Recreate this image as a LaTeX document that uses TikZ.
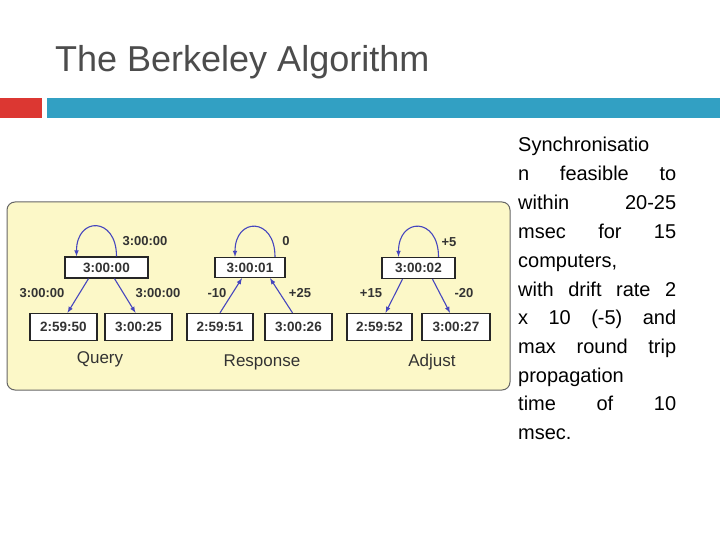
\documentclass[tikz,border=0pt]{standalone}
\usepackage{fontspec}
\setmainfont{Liberation Sans}
\definecolor{panel}{RGB}{252,248,200}
\definecolor{arr}{RGB}{70,70,190}
\definecolor{redbar}{RGB}{220,55,50}
\definecolor{tealbar}{RGB}{50,160,195}
\begin{document}
\begin{tikzpicture}[x=1pt,y=-1pt,
  clk/.style={draw=black!85,line width=1.3pt,fill=white,inner sep=0pt,text=black!80,font=\bfseries\fontsize{13.5}{15}\selectfont},
  lab/.style={inner sep=0pt,text=black!80,font=\bfseries\fontsize{13}{15}\selectfont},
  captxt/.style={text=black!80,font=\fontsize{17}{19}\selectfont},
  ar/.style={draw=arr,line width=1.1pt,-latex},
  rl/.style={font=\fontsize{20}{24}\selectfont,anchor=base west,inner sep=0}]
\useasboundingbox (0,0) rectangle (720,540);
\node[anchor=base west,inner sep=0,text=black!70,font=\fontsize{36}{40}\selectfont] (title) at (55,72) {The Berkeley Algorithm};
\fill[redbar] (0,98) rectangle (42,118);
\fill[tealbar] (47,98) rectangle (720,118);
\draw[rounded corners=8pt,fill=panel,draw=black!60,line width=1pt] (7,202) rectangle (510,390);
% Query
\node[clk,minimum width=83pt,minimum height=21pt] (q0) at (106.5,267.5) {3:00:00};
\node[clk,minimum width=67pt,minimum height=27pt] (q1) at (63.5,327) {2:59:50};
\node[clk,minimum width=67pt,minimum height=27pt] (q2) at (138.5,327) {3:00:25};
\draw[ar] ([xshift=10pt]q0.north) .. controls +(0,-40) and +(0,-40) .. ([xshift=-30pt]q0.north);
\draw[ar] ([xshift=-18pt]q0.south) -- ([xshift=4pt]q1.north);
\draw[ar] ([xshift=8pt]q0.south) -- ([xshift=-3pt]q2.north);
\node[lab] (ql0) at (145,241) {3:00:00};
\node[lab] (ql1) at (42,293) {3:00:00};
\node[lab] (ql2) at (158,293) {3:00:00};
\node[captxt] (qc) at (100,359) {Query};
% Response
\node[clk,minimum width=70pt,minimum height=20pt] (r0) at (250,267.5) {3:00:01};
\node[clk,minimum width=66pt,minimum height=27pt] (r1) at (220,327) {2:59:51};
\node[clk,minimum width=67pt,minimum height=27pt] (r2) at (298.5,327) {3:00:26};
\draw[ar] ([xshift=25pt]r0.north) .. controls +(0,-40) and +(0,-40) .. ([xshift=-15pt]r0.north);
\draw[ar] ([xshift=0pt]r1.north) -- ([xshift=-8pt]r0.south);
\draw[ar] ([xshift=-6pt]r2.north) -- ([xshift=20pt]r0.south);
\node[lab] (rl0) at (286,241) {0};
\node[lab] (rl1) at (217,293) {-10};
\node[lab] (rl2) at (300,293) {+25};
\node[captxt] (rc) at (262,362) {Response};
% Adjust
\node[clk,minimum width=73pt,minimum height=21pt] (a0) at (418.5,268) {3:00:02};
\node[clk,minimum width=65pt,minimum height=27pt] (a1) at (379.5,327) {2:59:52};
\node[clk,minimum width=68pt,minimum height=27pt] (a2) at (456,327) {3:00:27};
\draw[ar] ([xshift=20pt]a0.north) .. controls +(0,-40) and +(0,-40) .. ([xshift=-20pt]a0.north);
\draw[ar] ([xshift=-16pt]a0.south) -- ([xshift=6pt]a1.north);
\draw[ar] ([xshift=14pt]a0.south) -- ([xshift=-6pt]a2.north);
\node[lab] (al0) at (449,242) {+5};
\node[lab] (al1) at (371,293) {+15};
\node[lab] (al2) at (464,293) {-20};
\node[captxt] (ac) at (432,362) {Adjust};
% right text
\def\w{158pt}
\node[rl] (t1) at (518,152) {Synchronisatio};
\node[rl] (t2) at (518,181) {\makebox[\w][s]{n feasible to}};
\node[rl] (t3) at (518,210) {\makebox[\w][s]{within 20-25}};
\node[rl] (t4) at (518,238) {\makebox[\w][s]{msec for 15}};
\node[rl] (t5) at (518,267) {computers,};
\node[rl] (t6) at (518,296) {\makebox[\w][s]{with drift rate 2}};
\node[rl] (t7) at (518,324) {\makebox[\w][s]{x 10 (-5) and}};
\node[rl] (t8) at (518,353) {\makebox[\w][s]{max round trip}};
\node[rl] (t9) at (518,382) {propagation};
\node[rl] (t10) at (518,410) {\makebox[\w][s]{time of 10}};
\node[rl] (t11) at (518,439) {msec.};
\end{tikzpicture}
\end{document}
